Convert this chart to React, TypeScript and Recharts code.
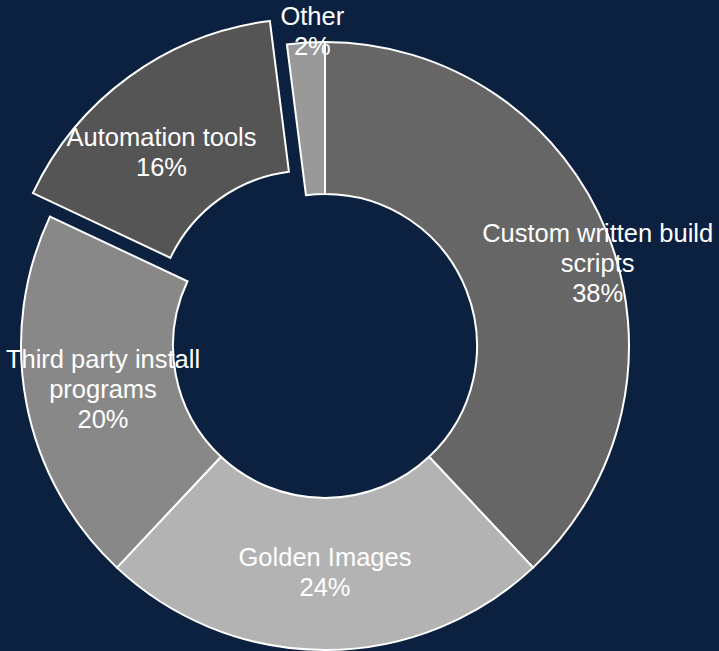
import { PieChart, Pie } from 'recharts';

const categories = [
  'Custom written build scripts',
  'Golden Images',
  'Third party install programs',
  'Automation tools',
  'Other',
];
const shares = [38, 24, 20, 16, 2];
// wrapped label lines, as shown on the chart
const labelLines = [
  ['Custom written build', 'scripts'],
  ['Golden Images'],
  ['Third party install', 'programs'],
  ['Automation tools'],
  ['Other'],
];

const colors = ['#666666', '#b3b3b3', '#888888', '#555555', '#999999'];
const BG = '#0c2140';
const CX = 325;
const CY = 346;
const INNER = 152;
const OUTER = 304;
const EXPLODE = 29; // px pulled out for the exploded slice
const explodedName = 'Automation tools';
const FONT = 25.5;
const LINE_H = 30;

// label placement tweaks (radius / extra angle in degrees, clockwise)
const labelTweaks: Record<string, { r: number; da: number }> = {
  'Custom written build scripts': { r: 285, da: 4.7 },
  'Automation tools': { r: 225, da: -4.6 },
  Other: { r: 315, da: 1.3 },
};

const total = shares.reduce((a, b) => a + b, 0);

// clockwise angle (deg from 12 o'clock) of each slice middle
const midClock = (() => {
  let acc = 0;
  return shares.map((v) => {
    const m = ((acc + v / 2) / total) * 360;
    acc += v;
    return m;
  });
})();

const explodeIdx = categories.indexOf(explodedName);
const exDx = EXPLODE * Math.sin((midClock[explodeIdx] * Math.PI) / 180);
const exDy = -EXPLODE * Math.cos((midClock[explodeIdx] * Math.PI) / 180);

const baseData = categories.map((name, i) => ({
  name,
  value: shares[i],
  fill: i === explodeIdx ? 'transparent' : colors[i],
  stroke: i === explodeIdx ? 'none' : '#ffffff',
}));

const explodedData = categories.map((name, i) => ({
  name,
  value: shares[i],
  fill: i === explodeIdx ? colors[i] : 'transparent',
  stroke: i === explodeIdx ? '#ffffff' : 'none',
}));

function renderLabel(props: any) {
  const { index } = props;
  const name = categories[index];
  const tweak = labelTweaks[name] || { r: (INNER + OUTER) / 2 - 2, da: 0 };
  const ang = ((midClock[index] + tweak.da) * Math.PI) / 180;
  let x = CX + tweak.r * Math.sin(ang);
  let y = CY - tweak.r * Math.cos(ang);
  if (index === explodeIdx) {
    x += exDx;
    y += exDy;
  }
  const lines = [...labelLines[index], `${shares[index]}%`];
  const top = y - ((lines.length - 1) * LINE_H) / 2 + FONT * 0.36;
  return (
    <text
      key={`lbl-${index}`}
      textAnchor="middle"
      fill="#ffffff"
      fontSize={FONT}
      fontFamily="'Liberation Sans', Arial, sans-serif"
    >
      {lines.map((ln, j) => (
        <tspan key={j} x={x} y={top + j * LINE_H}>
          {ln}
        </tspan>
      ))}
    </text>
  );
}

export default function App() {
  return (
    <div style={{ position: 'fixed', left: 0, top: 0, width: 719, height: 651, background: BG }}>
      <PieChart width={719} height={651} margin={{ top: 0, right: 0, bottom: 0, left: 0 }}>
        <Pie
          data={baseData}
          dataKey="value"
          nameKey="name"
          cx={CX}
          cy={CY}
          innerRadius={INNER}
          outerRadius={OUTER}
          startAngle={90}
          endAngle={-270}
          strokeWidth={2}
          isAnimationActive={false}
          labelLine={false}
        />
        <Pie
          data={explodedData}
          dataKey="value"
          nameKey="name"
          cx={CX + exDx}
          cy={CY + exDy}
          innerRadius={INNER}
          outerRadius={OUTER}
          startAngle={90}
          endAngle={-270}
          strokeWidth={2}
          isAnimationActive={false}
          labelLine={false}
          label={renderLabel}
        />
      </PieChart>
    </div>
  );
}
